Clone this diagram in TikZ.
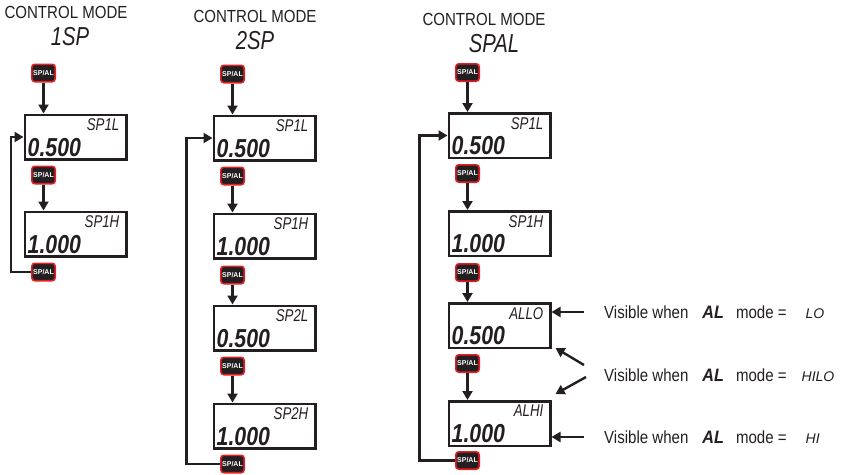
\documentclass[tikz,border=0pt]{standalone}
\usepackage{fontspec}
\setmainfont{Liberation Sans}
\usepackage{graphicx}
\usetikzlibrary{arrows.meta,positioning}
\definecolor{ink}{HTML}{231F20}
\definecolor{keyred}{HTML}{E31E24}

% narrow slanted letters for the display readouts
\newcommand\segtxt[3][0.78]{{\fontsize{#2}{#2}\selectfont\itshape\scalebox{#1}[1]{#3}}}
% slightly condensed sans for the captions
\newcommand\narrowtxt[1]{\scalebox{0.86}[1]{#1}}

\begin{document}
\begin{tikzpicture}[
    x=1pt, y=-1pt,
    font=\fontsize{17.5}{20}\selectfont,
    lcd/.style 2 args={draw=ink, line width=2.5pt, minimum width=101.5pt, minimum height=44.5pt, inner sep=0pt,
      label={[anchor=north east, inner xsep=8pt, inner ysep=5pt, text=ink]north east:\segtxt{17}{#1}},
      label={[anchor=south west, inner xsep=4pt, inner ysep=4pt, text=ink, font=\bfseries]south west:\segtxt[0.82]{26}{#2}}},
    spal/.style={draw=keyred, fill=ink, line width=1.6pt, rounded corners=3pt, minimum width=23.4pt, minimum height=17.4pt,
      inner sep=0pt, text=white, font=\fontsize{7}{7}\selectfont\bfseries},
    arrow/.style={-{Triangle[width=10pt,length=9pt]}, line width=2.4pt, draw=ink},
    modehead/.style={text=ink},
    note/.style={text=ink, inner sep=0pt, anchor=west}
  ]
  \useasboundingbox (0,0) rectangle (842,474);

  % Mode 1SP
  \node[modehead] (head1) at (66,12) {\narrowtxt{CONTROL MODE}};
  \node[modehead, below=2pt of head1, xshift=4pt] (mode1) {\segtxt{26}{1SP}};
  \node[spal] (k11) at (43.5,73) {SP/AL};
  \node[lcd={SP1L}{0.500}, below=31pt of k11, xshift=32pt] (d11) {};
  \node[spal, below=5pt of d11, xshift=-32pt] (k12) {SP/AL};
  \node[lcd={SP1H}{1.000}, below=26pt of k12, xshift=32pt] (d12) {};
  \node[spal, below=5pt of d12, xshift=-32pt] (k13) {SP/AL};

  \draw[arrow] (k11.south) -- (k11.south |- d11.north);
  \draw[arrow] (k12.south) -- (k12.south |- d12.north);
  \draw[arrow] (k13.west) -- ++(-20pt,0) |- (d11.west);

  % Mode 2SP
  \node[modehead] (head2) at (255,16) {\narrowtxt{CONTROL MODE}};
  \node[modehead, below=2pt of head2] (mode2) {\segtxt{26}{2SP}};
  \node[spal] (k21) at (232.5,74) {SP/AL};
  \node[lcd={SP1L}{0.500}, below=31pt of k21, xshift=32pt] (d21) {};
  \node[spal, below=5pt of d21, xshift=-32pt] (k22) {SP/AL};
  \node[lcd={SP1H}{1.000}, below=27pt of k22, xshift=32pt] (d22) {};
  \node[spal, below=6pt of d22, xshift=-32pt] (k23) {SP/AL};
  \node[lcd={SP2L}{0.500}, below=20pt of k23, xshift=32pt] (d23) {};
  \node[spal, below=5pt of d23, xshift=-32pt] (k24) {SP/AL};
  \node[lcd={SP2H}{1.000}, below=27pt of k24, xshift=32pt] (d24) {};
  \node[spal, below=5pt of d24, xshift=-32pt] (k25) {SP/AL};

  \draw[arrow] (k21.south) -- (k21.south |- d21.north);
  \draw[arrow] (k22.south) -- (k22.south |- d22.north);
  \draw[arrow] (k23.south) -- (k23.south |- d23.north);
  \draw[arrow] (k24.south) -- (k24.south |- d24.north);
  \draw[arrow] (k25.west) -- ++(-33.5pt,0) |- (d21.west);

  % Mode SPAL
  \node[modehead] (head3) at (484,19) {\narrowtxt{CONTROL MODE}};
  \node[modehead, below=2pt of head3, xshift=10pt] (mode3) {\segtxt{26}{SPAL}};
  \node[spal] (k31) at (467.5,72.5) {SP/AL};
  \node[lcd={SP1L}{0.500}, below=30pt of k31, xshift=32pt] (d31) {};
  \node[spal, below=5pt of d31, xshift=-32pt] (k32) {SP/AL};
  \node[lcd={SP1H}{1.000}, below=27pt of k32, xshift=32pt] (d32) {};
  \node[spal, below=6pt of d32, xshift=-32pt] (k33) {SP/AL};
  \node[lcd={ALLO}{0.500}, below=20pt of k33, xshift=32pt] (d33) {};
  \node[spal, below=5pt of d33, xshift=-32pt] (k34) {SP/AL};
  \node[lcd={ALHI}{1.000}, below=27pt of k34, xshift=32pt] (d34) {};
  \node[spal, below=4pt of d34, xshift=-32pt] (k35) {SP/AL};

  \draw[arrow] (k31.south) -- (k31.south |- d31.north);
  \draw[arrow] (k32.south) -- (k32.south |- d32.north);
  \draw[arrow] (k33.south) -- (k33.south |- d33.north);
  \draw[arrow] (k34.south) -- (k34.south |- d34.north);
  \draw[arrow] (k35.west) -- ++(-35.5pt,0) |- (d31.west);

  % Alarm mode notes
  \node[note] (vislo) at (604,312) {\narrowtxt{Visible when}\hspace{14pt}{\bfseries\segtxt[0.9]{18}{AL}}\hspace{12pt}\narrowtxt{mode =}\hspace{19pt}\segtxt[1]{14}{LO}};
  \node[note] (vishilo) at (604,375) {\narrowtxt{Visible when}\hspace{14pt}{\bfseries\segtxt[0.9]{18}{AL}}\hspace{12pt}\narrowtxt{mode =}\hspace{15pt}\segtxt[1]{14}{HILO}};
  \node[note] (vishi) at (604,437) {\narrowtxt{Visible when}\hspace{14pt}{\bfseries\segtxt[0.9]{18}{AL}}\hspace{12pt}\narrowtxt{mode =}\hspace{19pt}\segtxt[1]{14}{HI}};

  \draw[arrow] ([xshift=-20pt]vislo.west) -- (vislo.west -| d33.east);
  \draw[arrow] ([xshift=-20pt,yshift=10pt]vishilo.west) -- ([xshift=4pt,yshift=1pt]d33.south east);
  \draw[arrow] ([xshift=-18pt,yshift=-2pt]vishilo.west) -- ([xshift=4pt,yshift=6pt]d34.north east);
  \draw[arrow] ([xshift=-20pt]vishi.west) -- (vishi.west -| d34.east);
\end{tikzpicture}
\end{document}
